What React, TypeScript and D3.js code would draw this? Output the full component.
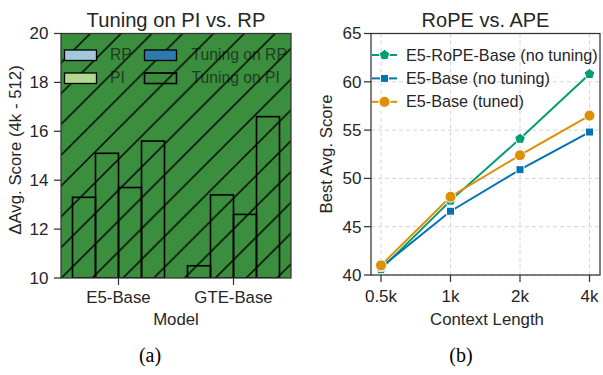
import React from "react";
import * as d3 from "d3";

const models = ["E5-Base", "GTE-Base"];
const hues = ["RP", "PI", "Tuning on RP", "Tuning on PI"];
const hueColors = ["#a3c8dc", "#b3d991", "#2f78b0", "#3b8e3e"];
const barValues = [
  [13.3, 15.1, 13.7, 15.6],
  [10.5, 13.4, 12.6, 16.6],
];
const leftTicks = [10, 12, 14, 16, 18, 20];

const contexts = ["0.5k", "1k", "2k", "4k"];
const seriesNames = ["E5-RoPE-Base (no tuning)", "E5-Base (no tuning)", "E5-Base (tuned)"];
const seriesColors = ["#029e73", "#0173b2", "#de8f05"];
const seriesMarkers = ["pentagon", "square", "circle"];
const ropeValues = [40.6, 47.7, 54.1, 60.8];
const baseValues = [40.8, 46.6, 50.9, 54.8];
const tunedValues = [41.0, 48.1, 52.4, 56.5];
const rightTicks = [40, 45, 50, 55, 60, 65];

const FONT = "'Liberation Sans', Arial, Helvetica, sans-serif";
const TXT = "#262626";
const SPINE = "#333333";

function pentagon(r: number) {
  const pts = d3.range(5).map((i) => {
    const a = -Math.PI / 2 + (i * 2 * Math.PI) / 5;
    return [r * Math.cos(a), r * Math.sin(a)];
  });
  return "M" + pts.map((p) => p.join(",")).join("L") + "Z";
}

function Marker({ type, x, y, color }: { type: string; x: number; y: number; color: string }) {
  let d = "";
  if (type === "circle") d = d3.symbol(d3.symbolCircle, 95)()!;
  else if (type === "square") d = d3.symbol(d3.symbolSquare, 64)()!;
  else d = pentagon(5.6);
  return <path d={d} transform={`translate(${x},${y})`} fill={color} stroke="#fff" strokeWidth={1} />;
}

export default function App() {
  // left chart
  const L = { x0: 61, x1: 291, y0: 33.5, y1: 278 };
  const xBand = d3.scaleBand().domain(models).range([L.x0, L.x1]).padding(0);
  const groupW = xBand.bandwidth() * 0.8;
  const hueBand = d3.scaleBand().domain(hues).range([0, groupW]).padding(0);
  const yL = d3.scaleLinear().domain([10, 20]).range([L.y1, L.y0]);

  // right chart
  const R = { x0: 371, x1: 600, y0: 33.5, y1: 275 };
  const xP = d3.scalePoint().domain(contexts).range([381, 589.5]);
  const yR = d3.scaleLinear().domain([40, 65]).range([R.y1, R.y0]);
  const series = [ropeValues, baseValues, tunedValues];
  const line = d3
    .line<number>()
    .x((_, i) => xP(contexts[i])!)
    .y((v) => yR(v));

  const hs = 30.8;

  return (
    <svg width={603} height={375} style={{ position: "absolute", left: 0, top: 0, background: "#fff" }} fontFamily={FONT}>
      <defs>
        <pattern id="hatch" patternUnits="userSpaceOnUse" width={hs} height={hs} x={0.6} y={0}>
          <line x1={0} y1={hs} x2={hs} y2={0} stroke="#000" strokeWidth={1.4} />
          <line x1={-2} y1={2} x2={2} y2={-2} stroke="#000" strokeWidth={1.4} />
          <line x1={hs - 2} y1={hs + 2} x2={hs + 2} y2={hs - 2} stroke="#000" strokeWidth={1.4} />
        </pattern>
        <clipPath id="clipL">
          <rect x={L.x0} y={L.y0} width={L.x1 - L.x0} height={L.y1 - L.y0} />
        </clipPath>
      </defs>

      {/* LEFT CHART */}
      <rect x={L.x0} y={L.y0} width={L.x1 - L.x0} height={L.y1 - L.y0} fill="#3b8e3e" />
      {hues.map((h, i) => {
        const col = Math.floor(i / 2);
        const row = i % 2;
        const tx = col === 0 ? 110 : 191.5;
        const ty = row === 0 ? 55 : 78;
        return (
          <text key={h} x={tx} y={ty} dy="0.35em" fontSize={15.7} fill="#1e3f20">
            {h}
          </text>
        );
      })}
      <rect x={L.x0} y={L.y0} width={L.x1 - L.x0} height={L.y1 - L.y0} fill="url(#hatch)" />
      <g clipPath="url(#clipL)">
        {models.map((m, mi) =>
          hues.map((h, hi) => {
            const cx = xBand(m)! + xBand.bandwidth() / 2;
            const x = cx - groupW / 2 + hueBand(h)!;
            const v = barValues[mi][hi];
            return (
              <rect
                key={m + h}
                x={x}
                y={yL(v)}
                width={hueBand.bandwidth()}
                height={yL(10) - yL(v)}
                fill="none"
                stroke="#000"
                strokeWidth={1.6}
              />
            );
          })
        )}
      </g>
      {hues.map((h, i) => {
        const col = Math.floor(i / 2);
        const row = i % 2;
        const px = col === 0 ? 64.5 : 144.5;
        const py = row === 0 ? 50 : 73;
        return (
          <g key={"lp" + h}>
            <rect x={px} y={py} width={32} height={10.5} fill={hueColors[i]} stroke="#000" strokeWidth={1.3} />
            {i === 3 && <rect x={px} y={py} width={32} height={10.5} fill="url(#hatch)" stroke="#000" strokeWidth={1.3} />}
          </g>
        );
      })}
      <rect x={L.x0} y={L.y0} width={L.x1 - L.x0} height={L.y1 - L.y0} fill="none" stroke={SPINE} strokeWidth={1.25} />
      {leftTicks.map((t) => (
        <g key={"lt" + t}>
          <line x1={L.x0 - 7} x2={L.x0} y1={yL(t)} y2={yL(t)} stroke={SPINE} strokeWidth={1.25} />
          <text x={L.x0 - 12.5} y={yL(t)} dy="0.35em" textAnchor="end" fontSize={17} fill={TXT}>
            {t}
          </text>
        </g>
      ))}
      {models.map((m) => {
        const cx = xBand(m)! + xBand.bandwidth() / 2;
        return (
          <g key={"lx" + m}>
            <line x1={cx} x2={cx} y1={L.y1} y2={L.y1 + 7} stroke={SPINE} strokeWidth={1.25} />
            <text x={cx} y={303} textAnchor="middle" fontSize={16.8} fill={TXT}>
              {m}
            </text>
          </g>
        );
      })}
      <text x={176} y={27} textAnchor="middle" fontSize={20.2} fill={TXT}>
        Tuning on PI vs. RP
      </text>
      <text x={176} y={325} textAnchor="middle" fontSize={16.8} fill={TXT}>
        Model
      </text>
      <text transform="translate(21,150) rotate(-90)" textAnchor="middle" fontSize={16.8} fill={TXT}>
        ΔAvg. Score (4k - 512)
      </text>
      <text x={150} y={362} textAnchor="middle" fontSize={20} fontFamily="'Liberation Serif', 'Times New Roman', serif" fill="#000">
        (a)
      </text>

      {/* RIGHT CHART */}
      <rect x={R.x0} y={R.y0} width={R.x1 - R.x0} height={R.y1 - R.y0} fill="#fff" />
      {rightTicks.map((t) => (
        <line key={"gy" + t} x1={R.x0} x2={R.x1} y1={yR(t)} y2={yR(t)} stroke="#d4d4d4" strokeWidth={1} strokeDasharray="4,3" />
      ))}
      {contexts.map((c) => (
        <line key={"gx" + c} x1={xP(c)} x2={xP(c)} y1={R.y0} y2={R.y1} stroke="#d4d4d4" strokeWidth={1} strokeDasharray="4,3" />
      ))}
      {series.map((s, si) => (
        <path key={"ln" + si} d={line(s)!} fill="none" stroke={seriesColors[si]} strokeWidth={2} />
      ))}
      {series.map((s, si) =>
        s.map((v, i) => <Marker key={"mk" + si + i} type={seriesMarkers[si]} x={xP(contexts[i])!} y={yR(v)} color={seriesColors[si]} />)
      )}
      {seriesNames.map((n, i) => {
        const ly = 55 + i * 23.4;
        return (
          <g key={"rl" + n}>
            <line x1={372} x2={397} y1={ly} y2={ly} stroke={seriesColors[i]} strokeWidth={2} />
            <Marker type={seriesMarkers[i]} x={384.5} y={ly} color={seriesColors[i]} />
            <text x={406} y={ly} dy="0.35em" fontSize={16.2} fill={TXT}>
              {n}
            </text>
          </g>
        );
      })}
      <rect x={R.x0} y={R.y0} width={R.x1 - R.x0} height={R.y1 - R.y0} fill="none" stroke={SPINE} strokeWidth={1.25} />
      {rightTicks.map((t) => (
        <g key={"rt" + t}>
          <line x1={R.x0 - 7} x2={R.x0} y1={yR(t)} y2={yR(t)} stroke={SPINE} strokeWidth={1.25} />
          <text x={R.x0 - 9.5} y={yR(t)} dy="0.35em" textAnchor="end" fontSize={17} fill={TXT}>
            {t}
          </text>
        </g>
      ))}
      {contexts.map((c) => (
        <g key={"rx" + c}>
          <line x1={xP(c)} x2={xP(c)} y1={R.y1} y2={R.y1 + 7} stroke={SPINE} strokeWidth={1.25} />
          <text x={xP(c)} y={302} textAnchor="middle" fontSize={17} fill={TXT}>
            {c}
          </text>
        </g>
      ))}
      <text x={485.5} y={26.5} textAnchor="middle" fontSize={20} fill={TXT}>
        RoPE vs. APE
      </text>
      <text x={487} y={325} textAnchor="middle" fontSize={16.8} fill={TXT}>
        Context Length
      </text>
      <text transform="translate(332,154) rotate(-90)" textAnchor="middle" fontSize={16.8} fill={TXT}>
        Best Avg. Score
      </text>
      <text x={461} y={362} textAnchor="middle" fontSize={20} fontFamily="'Liberation Serif', 'Times New Roman', serif" fill="#000">
        (b)
      </text>
    </svg>
  );
}
